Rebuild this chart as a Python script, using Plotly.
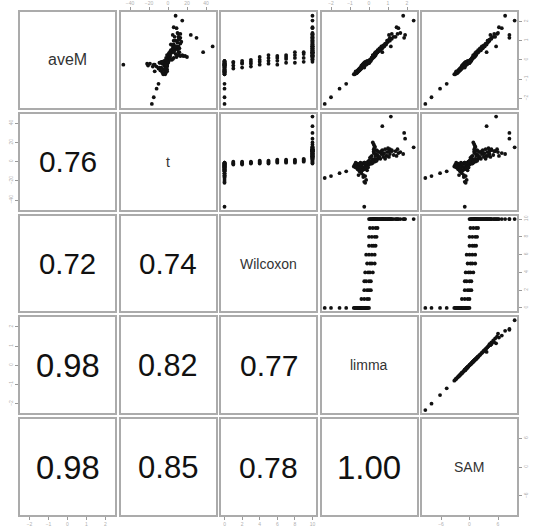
import plotly.graph_objects as go

# ---------------- data ----------------
var_names = ["aveM", "t", "Wilcoxon", "limma", "SAM"]

aveM = [-2.3, -1.95, -1.5, -1.25,
        -0.25, -0.2, -0.2, -0.3,
        2.3, 2.05, 1.7, 1.65, 1.3, 1.15, 1.3, 1.35, 1.15, 0.7, 0.4,
        -0.75, -0.75, -0.65, -0.7, -0.55, -0.65, -0.5, -0.45, -0.55, -0.4,
        -0.5, -0.35, -0.3, -0.4, -0.25, -0.2, -0.35, -0.15, -0.3, -0.1,
        -0.25, -0.2, -0.1, -0.15, -0.05, -0.1, -0.05, -0.6, -0.25, -0.6,
        -0.45, -0.3, -0.15, -0.1,
        -0.4, -0.2, -0.15, -0.05,
        -0.35, -0.2, -0.1, 0.0,
        -0.25, -0.1, 0.0, 0.15,
        -0.2, -0.05, 0.1, 0.25,
        -0.25, -0.05, 0.1, 0.2,
        -0.15, 0.05, 0.15, 0.25,
        -0.15, 0.1, 0.25, 0.4,
        -0.1, 0.1, 0.3, 0.4,
        -0.1, 0.0, 0.0, 0.1, 0.2, 0.2, 0.15, 0.25, 0.35, 0.3, 0.4, 0.35,
        0.5, 0.45, 0.55, 0.5, 0.65, 0.6, 0.75, 0.7, 0.85, 0.8, 0.9, 0.95,
        1.0, 1.1, 1.2, 1.2, 1.35, 1.4, 0.2, 0.15, 0.2, 0.25,
        0.05, 0.25, 0.4, 0.4, 0.6, 0.7, 0.7, 0.8, 1.0, 1.05]

t_stat = [-17, -15, -12, -10,
          -47, -22, -19, -21,
          8, 15, 6, 9, 24, 30, 5, 11, 13, 47, 37,
          -5, -3, -6, -4, -8, -2, -5, -10, -3, -7,
          -1, -12, -4, -9, -2, -6, -16, -8, -1, -5,
          -15, -3, -7, -9, -4, -6, -2, -14, -14, -1,
          -3, -1, -2, 0,
          -2, -1, -3, 0,
          -1, -2, 0, -1,
          -2, 0, -1, 1,
          -1, 0, -2, 1,
          -1, 1, 0, 2,
          0, -1, 1, 2,
          -1, 1, 0, 2,
          0, 2, 1, 3,
          0, 4, -2, 6, 2, 18, 9, 15, 3, 8, 12, 1,
          7, 4, 10, 3, 8, 12, 5, 9, 13, 6, 10, 14,
          8, 12, 7, 11, 13, 10, 13, 20, 16, 11,
          5, -1, 6, 11, 5, 11, 8, 3, 6, 11]

wilcoxon = [0, 0, 0, 0,
            0, 0, 0, 0,
            10, 10, 10, 10, 10, 10, 10, 10, 10, 10, 10,
            0, 0, 0, 0, 0, 0, 0, 0, 0, 0,
            0, 0, 0, 0, 0, 0, 0, 0, 0, 0,
            0, 0, 0, 0, 0, 0, 0, 0, 0, 0,
            1, 1, 1, 1,
            2, 2, 2, 2,
            3, 3, 3, 3,
            4, 4, 4, 4,
            5, 5, 5, 5,
            6, 6, 6, 6,
            7, 7, 7, 7,
            8, 8, 8, 8,
            9, 9, 9, 9,
            10, 10, 10, 10, 10, 10, 10, 10, 10, 10, 10, 10,
            10, 10, 10, 10, 10, 10, 10, 10, 10, 10, 10, 10,
            10, 10, 10, 10, 10, 10, 10, 10, 10, 10,
            10, 10, 10, 10, 10, 10, 10, 10, 10, 10]

limma = [-2.33, -2.0, -1.55, -1.2,
         -0.25, -0.2, -0.15, -0.25,
         1.8, 2.35, 1.45, 1.55, 1.9, 1.85, 1.05, 1.2, 1.1, 1.15, 0.7,
         -0.8, -0.75, -0.7, -0.65, -0.6, -0.6, -0.55, -0.5, -0.5, -0.45,
         -0.45, -0.4, -0.4, -0.35, -0.35, -0.3, -0.3, -0.25, -0.25, -0.2,
         -0.2, -0.15, -0.15, -0.1, -0.1, -0.05, 0.0, -0.55, -0.3, -0.7,
         -0.4, -0.25, -0.1, 0.0,
         -0.25, -0.1, 0.0, 0.1,
         -0.25, -0.15, 0.0, 0.1,
         -0.2, -0.05, 0.05, 0.2,
         -0.1, 0.05, 0.15, 0.3,
         -0.15, 0.0, 0.15, 0.3,
         0.0, 0.15, 0.25, 0.35,
         0.0, 0.15, 0.3, 0.4,
         0.05, 0.2, 0.35, 0.45,
         0.0, 0.05, 0.1, 0.15, 0.2, 0.25, 0.25, 0.3, 0.3, 0.35, 0.4, 0.4,
         0.45, 0.5, 0.55, 0.6, 0.65, 0.7, 0.75, 0.8, 0.85, 0.9, 0.95, 1.0,
         1.1, 1.2, 1.3, 1.4, 1.5, 1.65, 0.25, 0.2, 0.3, 0.25,
         0.1, 0.2, 0.35, 0.45, 0.55, 0.65, 0.75, 0.85, 0.95, 1.05]

sam = [-9.3, -8.0, -6.2, -4.8,
       -1.0, -0.8, -0.6, -1.0,
       7.5, 9.5, 6.2, 6.8, 8.4, 8.4, 4.4, 5.2, 4.6, 5.6, 3.6,
       -3.2, -3.0, -2.8, -2.6, -2.4, -2.4, -2.2, -2.0, -2.0, -1.8,
       -1.8, -1.6, -1.6, -1.4, -1.4, -1.2, -1.2, -1.0, -1.0, -0.8,
       -0.8, -0.6, -0.6, -0.4, -0.4, -0.2, 0.0, -2.2, -1.2, -2.8,
       -1.6, -1.0, -0.4, 0.0,
       -1.0, -0.4, 0.0, 0.4,
       -1.0, -0.6, 0.0, 0.4,
       -0.8, -0.2, 0.2, 0.8,
       -0.4, 0.2, 0.6, 1.2,
       -0.6, 0.0, 0.6, 1.2,
       0.0, 0.6, 1.0, 1.4,
       0.0, 0.6, 1.2, 1.6,
       0.2, 0.8, 1.4, 1.8,
       0.0, 0.2, 0.4, 0.6, 0.8, 1.0, 1.0, 1.2, 1.2, 1.4, 1.6, 1.6,
       1.8, 2.0, 2.2, 2.4, 2.6, 2.8, 3.0, 3.2, 3.4, 3.6, 3.8, 4.0,
       4.2, 4.6, 5.0, 5.4, 5.8, 6.0, 1.0, 0.8, 1.2, 1.0,
       0.4, 0.8, 1.4, 1.8, 2.2, 2.6, 3.0, 3.4, 3.8, 4.2]

# lower-triangle correlations, row by row
cor_values = [0.76,
              0.72, 0.74,
              0.98, 0.82, 0.77,
              0.98, 0.85, 0.78, 1.00]

# axis ranges and tick values per variable
var_ranges = [[-2.5, 2.5], [-50, 50], [-0.4, 10.4], [-2.5, 2.5], [-10, 10]]
var_ticks = [[-2, -1, 0, 1, 2], [-40, -20, 0, 20, 40], [0, 2, 4, 6, 8, 10],
             [-2, -1, 0, 1, 2], [-6, 0, 6]]

data = [aveM, t_stat, wilcoxon, limma, sam]
assert len({len(d) for d in data}) == 1

# ---------------- layout ----------------
W, H = 550, 527
PX0, PY0, PW, PH, DX, DY = 20, 8, 95, 97, 100.5, 103
BORDER = "#ababab"
TICKC = "#9a9a9a"

fig = go.Figure()
layout = dict(width=W, height=H, margin=dict(l=0, r=0, t=0, b=0),
              paper_bgcolor="white", plot_bgcolor="white", showlegend=False,
              font=dict(family="Liberation Sans, Arial, sans-serif"))
annotations = []
cor_iter = iter(cor_values)

for r in range(5):
    for c in range(5):
        k = r * 5 + c + 1
        sfx = "" if k == 1 else str(k)
        x0 = PX0 + c * DX
        y0 = PY0 + r * DY
        xa = dict(domain=[x0 / W, (x0 + PW) / W], range=var_ranges[c],
                  anchor="y" + sfx, showgrid=False, zeroline=False,
                  showline=True, mirror=True, linecolor=BORDER, linewidth=1.5,
                  ticks="", showticklabels=False, fixedrange=True)
        ya = dict(domain=[1 - (y0 + PH) / H, 1 - y0 / H], range=var_ranges[r],
                  anchor="x" + sfx, showgrid=False, zeroline=False,
                  showline=True, mirror=True, linecolor=BORDER, linewidth=1.5,
                  ticks="", showticklabels=False, fixedrange=True)
        tick_style = dict(ticks="outside", ticklen=3, tickwidth=1, tickcolor=TICKC,
                          showticklabels=True,
                          tickfont=dict(size=5, color="#b0b0b0"))
        if r == 0 and c in (1, 3):
            xa.update(side="top", tickvals=var_ticks[c], **tick_style)
        if r == 4 and c in (0, 2, 4):
            xa.update(side="bottom", tickvals=var_ticks[c], **tick_style)
        if c == 0 and r in (1, 3):
            ya.update(side="left", tickvals=var_ticks[r], tickangle=-90, **tick_style)
        if c == 4 and r in (0, 2, 4):
            ya.update(side="right", tickvals=var_ticks[r], tickangle=-90, **tick_style)
        layout["xaxis" + sfx] = xa
        layout["yaxis" + sfx] = ya

        if r < c:
            fig.add_trace(go.Scatter(x=data[c], y=data[r], mode="markers",
                                     xaxis="x" + sfx, yaxis="y" + sfx,
                                     marker=dict(size=3.8, color="#111111"),
                                     hoverinfo="skip"))
        else:
            # empty trace so that the panel (axes + frame) is drawn
            fig.add_trace(go.Scatter(x=[None], y=[None], mode="markers",
                                     xaxis="x" + sfx, yaxis="y" + sfx,
                                     hoverinfo="skip"))
        if r == c:
            size = 16 if r == 0 else 14
            annotations.append(dict(text=var_names[r], x=0.5, y=0.5,
                                    xref="x" + sfx + " domain",
                                    yref="y" + sfx + " domain",
                                    showarrow=False,
                                    font=dict(size=size, color="#333333")))

for r in range(1, 5):
    for c in range(r):
        k = r * 5 + c + 1
        v = next(cor_iter)
        annotations.append(dict(text=f"{v:.2f}", x=0.5, y=0.5,
                                xref=f"x{k} domain", yref=f"y{k} domain",
                                showarrow=False,
                                font=dict(size=20 + 13 * v, color="#111111")))

layout["annotations"] = annotations
fig.update_layout(**layout)
fig.write_html("out.html")
